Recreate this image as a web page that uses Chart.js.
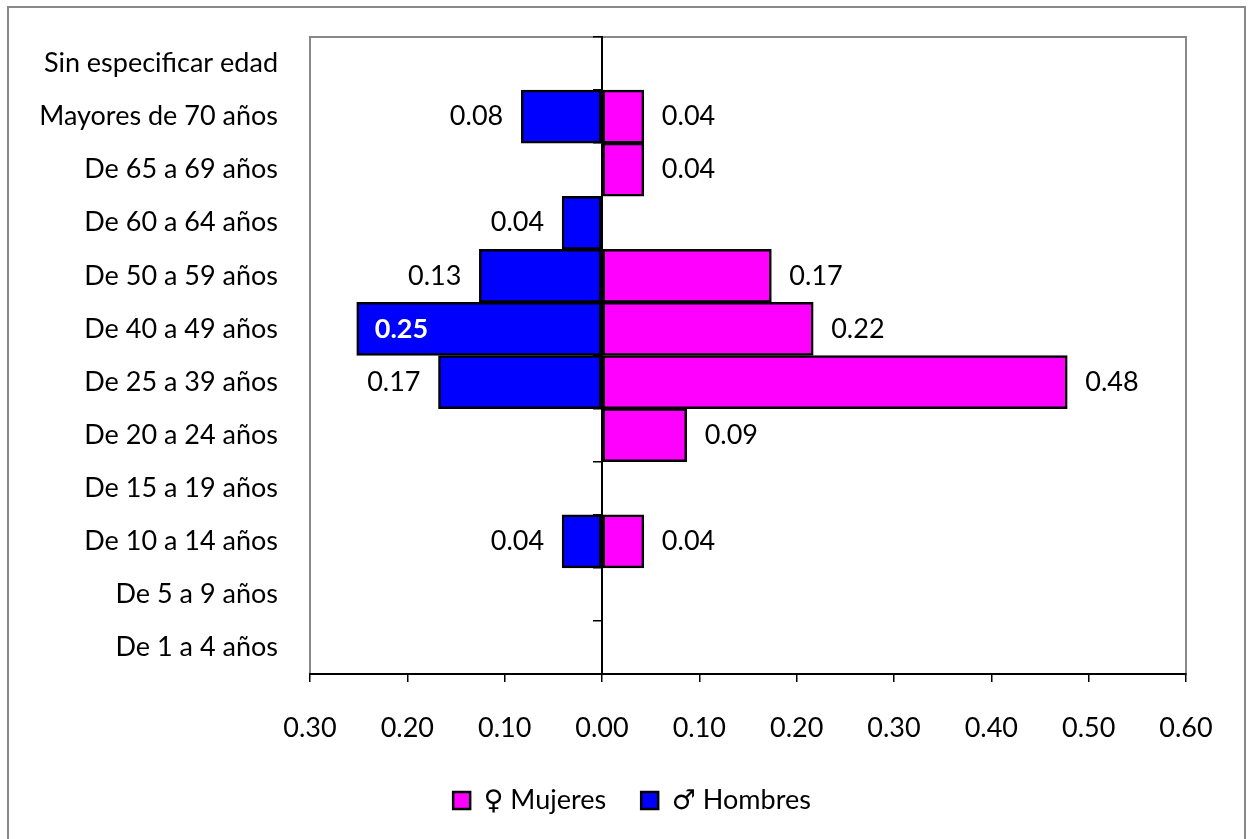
<!DOCTYPE html>
<html><head><meta charset="utf-8">
<script src="https://cdn.jsdelivr.net/npm/chart.js@4.4.1/dist/chart.umd.min.js"></script>
<style>html,body{margin:0;padding:0;background:#fff}</style>
</head><body><canvas id="c" width="1252" height="839"></canvas>
<script>
const categories = ["Sin especificar edad","Mayores de 70 años","De 65 a 69 años","De 60 a 64 años","De 50 a 59 años","De 40 a 49 años","De 25 a 39 años","De 20 a 24 años","De 15 a 19 años","De 10 a 14 años","De 5 a 9 años","De 1 a 4 años"];
const mujeres = [0, 0.043, 0.043, 0, 0.174, 0.217, 0.478, 0.087, 0, 0.043, 0, 0];
const hombres = [0, 0.083, 0, 0.041, 0.126, 0.252, 0.168, 0, 0, 0.041, 0, 0];
const seriesNames = ["\u2640 Mujeres", "\u2642 Hombres"];
const xMin = -0.3, xMax = 0.6, xStep = 0.1;

const FONT = "Lato, 'DejaVu Sans', sans-serif";
const FS = 27;

const framePlugin = {
  id: 'frame',
  afterLayout(chart) {
    const lg = chart.legend;
    if (lg) { lg.left += 34; lg.right += 34; }
  },
  beforeDraw(chart) {
    const ctx = chart.ctx, a = chart.chartArea;
    ctx.save();
    ctx.fillStyle = '#fff';
    ctx.fillRect(0, 0, chart.width, chart.height);
    ctx.strokeStyle = '#888888';
    ctx.lineWidth = 2;
    ctx.strokeRect(8, 7, 1237, 850);
    ctx.strokeRect(a.left, a.top, a.right - a.left, a.bottom - a.top);
    ctx.restore();
  }
};

const labelPlugin = {
  id: 'barLabels',
  afterDatasetsDraw(chart) {
    const ctx = chart.ctx, a = chart.chartArea;
    ctx.save();
    ctx.textBaseline = 'middle';
    chart.data.datasets.forEach((ds, di) => {
      const meta = chart.getDatasetMeta(di);
      meta.data.forEach((el, i) => {
        const v = ds.data[i];
        if (!v) return;
        const txt = Math.abs(v).toFixed(2);
        ctx.font = FS + 'px ' + FONT;
        const w = ctx.measureText(txt).width;
        const gap = 18;
        if (v > 0) {
          ctx.fillStyle = '#000';
          ctx.textAlign = 'left';
          ctx.fillText(txt, el.x + gap, el.y);
        } else {
          if (el.x - gap - w < a.left) {
            ctx.font = 'bold ' + FS + 'px ' + FONT;
            ctx.fillStyle = '#fff';
            ctx.textAlign = 'left';
            ctx.fillText(txt, el.x + gap, el.y);
          } else {
            ctx.fillStyle = '#000';
            ctx.textAlign = 'right';
            ctx.fillText(txt, el.x - gap, el.y);
          }
        }
      });
    });
    ctx.restore();
  }
};

const noPad = s => { s.paddingTop = 0; s.paddingBottom = 0; };

new Chart(document.getElementById('c'), {
  type: 'bar',
  data: {
    labels: categories,
    datasets: [
      { label: seriesNames[0], data: mujeres, backgroundColor: '#FF00FF', borderColor: '#000', borderWidth: 2.5, borderSkipped: false, yAxisID: 'y' },
      { label: seriesNames[1], data: hombres.map(v => -v), backgroundColor: '#0000FF', borderColor: '#000', borderWidth: 2.5, borderSkipped: false, yAxisID: 'y' }
    ]
  },
  options: {
    responsive: false,
    animation: false,
    devicePixelRatio: 1,
    indexAxis: 'y',
    layout: { padding: { left: 10, top: 37, right: 66, bottom: 15 } },
    datasets: { bar: { barPercentage: 1, categoryPercentage: 1 } },
    scales: {
      x: {
        type: 'linear', min: xMin, max: xMax, stacked: true,
        ticks: { stepSize: xStep, color: '#000', font: { family: FONT, size: FS }, padding: 30,
          callback: v => Math.abs(v).toFixed(2) },
        grid: { drawOnChartArea: false, drawTicks: true, tickLength: 8, color: '#000', lineWidth: 1.5 },
        border: { display: true, color: '#000', width: 2 },
        afterFit: s => { s.height = 78; }
      },
      y: {
        type: 'category', position: 'left', stacked: true,
        ticks: { color: '#000', font: { family: FONT, size: FS }, padding: 32 },
        grid: { display: false, drawTicks: false },
        border: { display: false },
        afterFit: s => { s.width = 300; noPad(s); }
      },
      y2: {
        type: 'category', axis: 'y', labels: categories, position: { x: 0 }, offset: true,
        ticks: { display: false },
        grid: { offset: true, drawOnChartArea: false, drawTicks: true, tickLength: 8, color: '#000', lineWidth: 1.5 },
        border: { display: true, color: '#000', width: 2 },
        afterFit: noPad
      }
    },
    plugins: {
      legend: {
        position: 'bottom',
        labels: { color: '#000', font: { family: FONT, size: FS }, boxWidth: 17, boxHeight: 17, padding: 35 }
      },
      tooltip: { enabled: false }
    }
  },
  plugins: [framePlugin, labelPlugin]
});
</script>
</body></html>
